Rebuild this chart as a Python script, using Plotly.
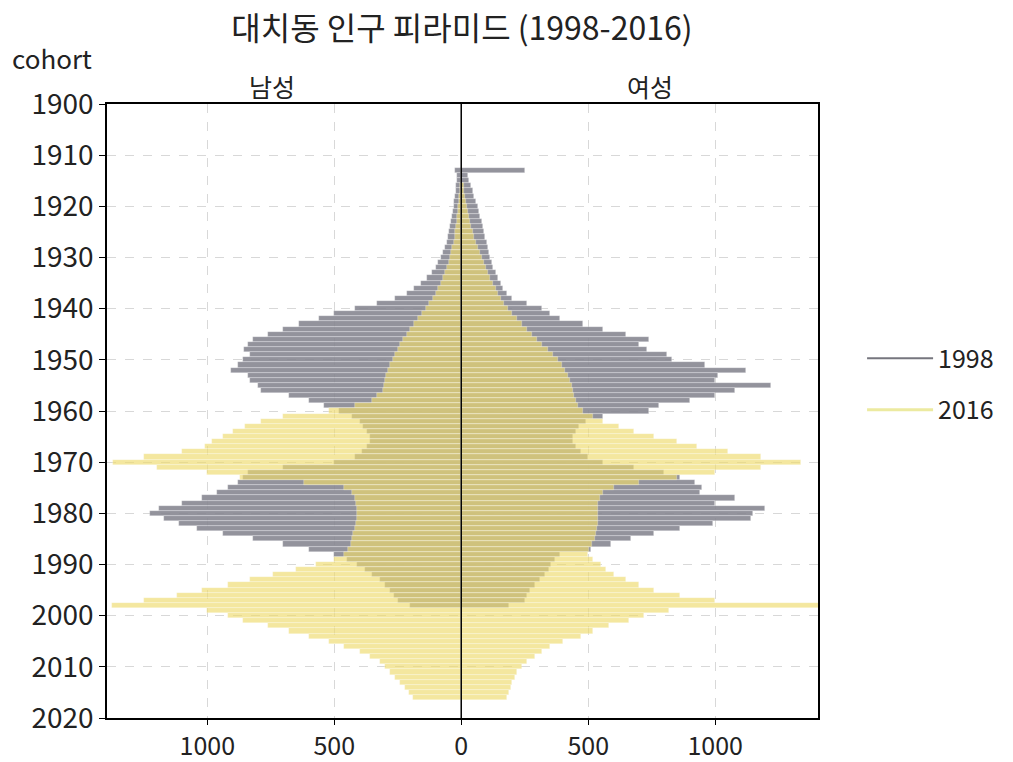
import plotly.graph_objects as go

# Birth-year cohorts and head counts by sex for the two census years
years_1998 = list(range(1913, 1999))
male_1998 = [
    25, 15, 18, 20, 22, 25, 28, 30, 33, 36,
    40, 44, 48, 52, 58, 62, 70, 80, 90, 100,
    115, 135, 160, 185, 215, 260, 330, 420, 500, 560,
    640, 700, 760, 820, 840, 855, 830, 860, 880, 905,
    840, 830, 800, 790, 680, 600, 540, 480, 430, 400,
    385, 370, 360, 360, 370, 390, 420, 500, 700, 840,
    860, 880, 920, 960, 1020, 1100, 1190, 1225, 1170, 1110,
    1040, 940, 820, 700, 600, 500, 450, 410, 380, 350,
    320, 300, 280, 265, 250, 200,
]
female_1998 = [
    250, 25, 30, 38, 45, 52, 58, 65, 70, 75,
    80, 85, 90, 95, 100, 105, 110, 115, 120, 125,
    135, 145, 155, 165, 180, 200, 260, 320, 350, 390,
    480, 560, 650, 740, 700, 730, 810, 830, 960, 1120,
    1010, 1000, 1220, 1080, 1000, 900, 780, 740, 560, 490,
    465, 450, 440, 440, 450, 470, 500, 560, 680, 800,
    860, 920, 950, 940, 1080, 1000, 1195, 1150, 1140, 990,
    860, 760, 670, 590, 510, 390, 370, 355, 345, 330,
    310, 290, 270, 260, 250, 190,
]

years_2016 = list(range(1916, 2017))
male_2016 = [
    5, 6, 8, 10, 12, 14, 16, 18, 20, 23,
    26, 30, 35, 40, 45, 50, 58, 65, 72, 80,
    90, 100, 110, 125, 140, 155, 170, 185, 200, 215,
    230, 240, 250, 260, 270, 280, 290, 295, 300, 305,
    310, 330, 350, 420, 520, 700, 790, 850, 900, 940,
    980, 1010, 1100, 1250, 1370, 1200, 1000, 870, 620, 460,
    430, 420, 415, 410, 410, 410, 415, 420, 425, 430,
    435, 445, 460, 500, 570, 650, 740, 830, 920, 1020,
    1120, 1250, 1375, 1000, 920, 860, 760, 680, 600, 520,
    460, 400, 360, 320, 300, 280, 260, 240, 220, 205,
    190,
]
female_2016 = [
    10, 12, 15, 18, 22, 26, 30, 35, 40, 45,
    52, 58, 65, 72, 80, 88, 96, 105, 115, 125,
    135, 145, 155, 170, 185, 200, 220, 240, 260, 280,
    300, 320, 340, 360, 380, 395, 410, 420, 430, 435,
    440, 445, 450, 460, 480, 520, 560, 620, 680, 760,
    850, 930, 1050, 1180, 1340, 1180, 1000, 850, 700, 600,
    560, 545, 540, 540, 540, 540, 540, 535, 530, 525,
    515, 505, 500, 520, 550, 570, 600, 650, 700, 760,
    860, 1000, 1420, 820, 720, 660, 580, 520, 470, 400,
    350, 320, 290, 260, 240, 220, 210, 200, 195, 190,
    180,
]

x_ticks = [-1000, -500, 0, 500, 1000]
x_tick_labels = ["1000", "500", "0", "500", "1000"]
y_ticks = list(range(1900, 2021, 10))

FONT = "Noto Sans CJK KR"
GREY = "rgba(135,135,145,0.9)"
YELLOW = "rgba(238,218,110,0.66)"
EDGE = dict(color="rgba(255,255,255,0.45)", width=0.6)

fig = go.Figure()

# 1998 bars (males to the left as negative values)
fig.add_trace(go.Bar(y=years_1998, x=[-v for v in male_1998], orientation="h",
                     width=1, marker=dict(color=GREY, line=EDGE), showlegend=False))
fig.add_trace(go.Bar(y=years_1998, x=female_1998, orientation="h",
                     width=1, marker=dict(color=GREY, line=EDGE), showlegend=False))
# 2016 bars drawn on top
fig.add_trace(go.Bar(y=years_2016, x=[-v for v in male_2016], orientation="h",
                     width=1, marker=dict(color=YELLOW, line=EDGE), showlegend=False))
fig.add_trace(go.Bar(y=years_2016, x=female_2016, orientation="h",
                     width=1, marker=dict(color=YELLOW, line=EDGE), showlegend=False))

# Legend entries as line keys
fig.add_trace(go.Scatter(x=[None], y=[None], mode="lines", name="1998",
                         line=dict(color="rgb(118,118,126)", width=2),
                         legendgroup="a"))
fig.add_trace(go.Scatter(x=[None], y=[None], mode="lines", name="2016",
                         line=dict(color="rgb(236,234,160)", width=3),
                         legendgroup="b"))

# Centre line
fig.add_shape(type="line", x0=0, x1=0, y0=0, y1=1, yref="paper",
              line=dict(color="black", width=1.5), layer="above")

fig.update_layout(
    width=1013, height=762,
    margin=dict(l=107, r=195, t=104, b=44, autoexpand=False),
    paper_bgcolor="white", plot_bgcolor="white",
    barmode="overlay", bargap=0,
    font=dict(family=FONT, size=24, color="#222"),
    title=dict(text="대치동 인구 피라미드 (1998-2016)", x=0.456, xanchor="center",
               y=0.962, yanchor="middle", font=dict(size=32, color="#222")),
    legend=dict(x=1.062, y=0.544, xanchor="left", yanchor="middle",
                font=dict(size=25), tracegroupgap=16, itemwidth=66,
                bgcolor="rgba(255,255,255,0)"),
    xaxis=dict(range=[-1395, 1405], tickvals=x_ticks, ticktext=x_tick_labels,
               showgrid=True, gridcolor="rgba(190,190,190,0.6)", griddash="dash",
               gridwidth=1, zeroline=False, showline=True, linecolor="black",
               linewidth=1.5, mirror=True, ticks="outside", ticklen=5,
               tickcolor="black", tickfont=dict(size=25), automargin=False),
    yaxis=dict(range=[2020, 1900], tickvals=y_ticks, showgrid=True,
               gridcolor="rgba(190,190,190,0.6)", griddash="dash", gridwidth=1,
               zeroline=False, showline=True, linecolor="black", linewidth=1.5,
               mirror=True, ticks="outside", ticklen=6, tickcolor="black",
               tickfont=dict(size=28), automargin=False),
)

fig.add_annotation(text="cohort", x=-0.136, y=1.075, xref="paper", yref="paper",
                   xanchor="left", yanchor="middle", showarrow=False,
                   font=dict(size=26))
fig.add_annotation(text="남성", x=-744, y=1.03, xref="x", yref="paper",
                   xanchor="center", yanchor="middle", showarrow=False,
                   font=dict(size=25))
fig.add_annotation(text="여성", x=744, y=1.03, xref="x", yref="paper",
                   xanchor="center", yanchor="middle", showarrow=False,
                   font=dict(size=25))

fig.write_html("out.html")
